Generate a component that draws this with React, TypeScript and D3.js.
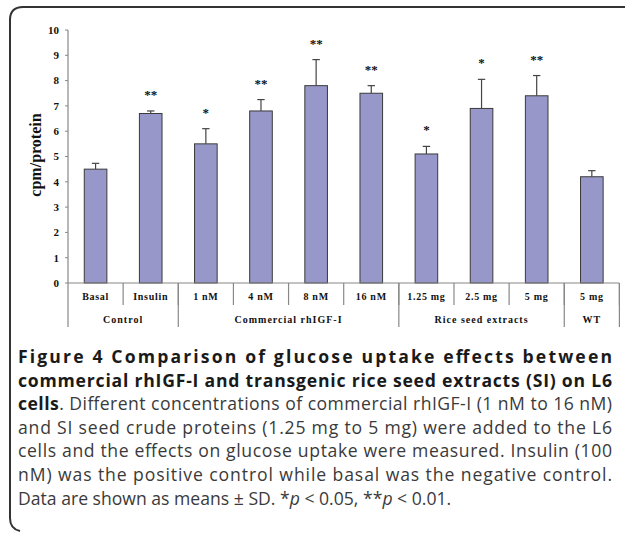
import React from "react"
import { scaleBand, scaleLinear } from "d3"

const categories = ["Basal", "Insulin", "1 nM", "4 nM", "8 nM", "16 nM", "1.25 mg", "2.5 mg", "5 mg", "5 mg WT"]
const catLabels = ["Basal", "Insulin", "1 nM", "4 nM", "8 nM", "16 nM", "1.25 mg", "2.5 mg", "5 mg", "5 mg"]
const means = [4.5, 6.7, 5.5, 6.8, 7.8, 7.5, 5.1, 6.9, 7.4, 4.2]
const sds = [0.23, 0.1, 0.6, 0.45, 1.03, 0.3, 0.3, 1.15, 0.8, 0.24]
const stars = ["", "**", "*", "**", "**", "**", "*", "*", "**", ""]
const groupNames = ["Control", "Commercial rhIGF-I", "Rice seed extracts", "WT"]
const groupSizes = [2, 4, 3, 1]
const yTicks = [0, 1, 2, 3, 4, 5, 6, 7, 8, 9, 10]

const serif = "'Liberation Serif', 'DejaVu Serif', serif"
const sans = "'Open Sans', 'Noto Sans', sans-serif"

export default function App() {
  const left = 68
  const right = 619.4
  const top = 30
  const bottom = 283

  const x = scaleBand().domain(categories).range([left, right]).padding(0)
  const y = scaleLinear().domain([0, 10]).range([bottom, top])
  const bw = x.bandwidth() * 0.41

  // group boundaries
  let acc = 0
  const groups = groupNames.map((name, i) => {
    const start = acc
    acc += groupSizes[i]
    const x0 = x(categories[start])
    const x1 = x(categories[acc - 1]) + x.bandwidth()
    return { name, x0, x1 }
  })

  const capLines = [
    { bold: "Figure 4 Comparison of glucose uptake effects between", rest: "" },
    { bold: "commercial rhIGF-I and transgenic rice seed extracts (SI) on L6", rest: "" },
    { bold: "cells", rest: ". Different concentrations of commercial rhIGF-I (1 nM to 16 nM)" },
    { bold: "", rest: "and SI seed crude proteins (1.25 mg to 5 mg) were added to the L6" },
    { bold: "", rest: "cells and the effects on glucose uptake were measured. Insulin (100" },
    { bold: "", rest: "nM) was the positive control while basal was the negative control." },
  ]
  const fs = 17.6

  return (
    <svg width={625} height={533} style={{ position: "absolute", left: 0, top: 0, background: "#fff" }}>
      {/* frame */}
      <path d="M625,7 L23,7 Q10,7 10,20 L10,518 Q10,529 20,531" fill="none" stroke="#333" strokeWidth={2} />

      {/* bars */}
      {categories.map((c, i) => (
        <rect
          key={c}
          x={x(c) + (x.bandwidth() - bw) / 2}
          y={y(means[i])}
          width={bw}
          height={y(0) - y(means[i])}
          fill="#9797c9"
          stroke="#3a3a3a"
          strokeWidth={1}
        />
      ))}

      {/* error bars */}
      {categories.map((c, i) => {
        const cx = x(c) + x.bandwidth() / 2
        const yt = y(means[i] + sds[i])
        return (
          <g key={c} stroke="#444" strokeWidth={1.2}>
            <line x1={cx} x2={cx} y1={y(means[i])} y2={yt} />
            <line x1={cx - 3.7} x2={cx + 3.7} y1={yt} y2={yt} />
          </g>
        )
      })}

      {/* significance stars */}
      {categories.map((c, i) => (
        <text
          key={c}
          x={x(c) + x.bandwidth() / 2}
          y={y(means[i] + sds[i]) - 12}
          textAnchor="middle"
          fontFamily={serif}
          fontWeight="bold"
          fontSize={13}
          fill="#111"
        >
          {stars[i]}
        </text>
      ))}

      {/* y axis */}
      <line x1={left} x2={left} y1={top} y2={327} stroke="#888" strokeWidth={1.2} />
      {yTicks.map(t => (
        <g key={t}>
          <line x1={left - 3} x2={left} y1={y(t)} y2={y(t)} stroke="#888" />
          <text
            x={left - 9}
            y={y(t)}
            dy="0.35em"
            textAnchor="end"
            fontFamily={serif}
            fontWeight="bold"
            fontSize={11}
            fill="#111"
          >
            {t}
          </text>
        </g>
      ))}
      <text
        transform={`translate(35,155) rotate(-90)`}
        textAnchor="middle"
        dy="0.35em"
        fontFamily={serif}
        fontWeight="bold"
        fontSize={16}
        fill="#111"
      >
        cpm/protein
      </text>

      {/* x axis & category table */}
      <line x1={left} x2={right} y1={bottom} y2={bottom} stroke="#888" strokeWidth={1.2} />
      {categories.map((c, i) => (
        <g key={c}>
          <line x1={x(c) + x.bandwidth()} x2={x(c) + x.bandwidth()} y1={bottom} y2={305} stroke="#888" strokeWidth={1.2} />
          <text
            x={x(c) + x.bandwidth() / 2}
            y={300}
            textAnchor="middle"
            fontFamily={serif}
            fontWeight="bold"
            fontSize={10}
            letterSpacing={0.7}
            fill="#111"
          >
            {catLabels[i]}
          </text>
        </g>
      ))}
      {groups.map(g => (
        <g key={g.name}>
          <line x1={g.x1} x2={g.x1} y1={bottom} y2={327} stroke="#888" strokeWidth={1.2} />
          <text
            x={(g.x0 + g.x1) / 2}
            y={323}
            textAnchor="middle"
            fontFamily={serif}
            fontWeight="bold"
            fontSize={10}
            letterSpacing={1}
            fill="#111"
          >
            {g.name}
          </text>
        </g>
      ))}

      {/* caption */}
      {capLines.map((l, i) => (
        <text
          key={i}
          x={18}
          y={363 + i * 23.6}
          fontFamily={sans}
          fontSize={fs}
          fill="#3a3a3a"
          textLength={594}
          lengthAdjust="spacing"
        >
          {l.bold && (
            <tspan fontWeight="bold" fill="#1a1a1a">
              {l.bold}
            </tspan>
          )}
          {l.rest && <tspan>{l.rest}</tspan>}
        </text>
      ))}
      <text x={18} y={363 + 6 * 23.6} fontFamily={sans} fontSize={fs} fill="#3a3a3a">
        Data are shown as means ± SD. *<tspan fontStyle="italic">p</tspan> &lt; 0.05, **
        <tspan fontStyle="italic">p</tspan> &lt; 0.01.
      </text>
    </svg>
  )
}
